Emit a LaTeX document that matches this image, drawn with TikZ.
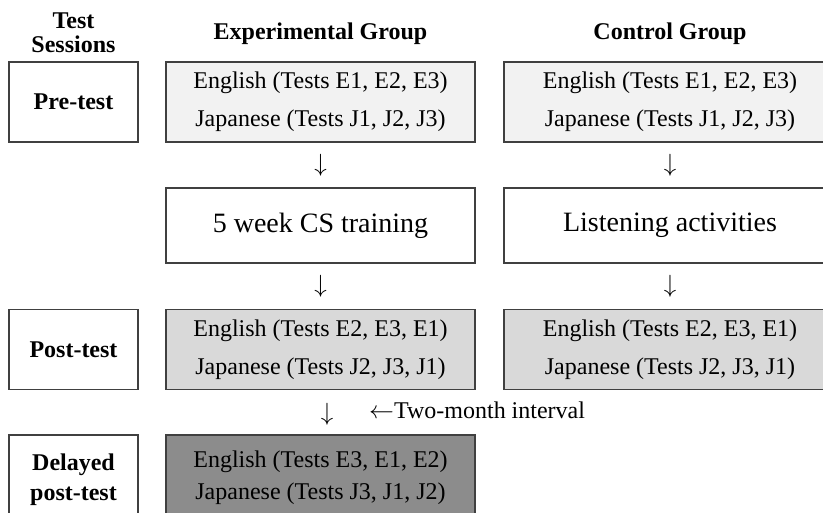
\documentclass[tikz,border=0pt]{standalone}
\usepackage{fontspec}
\setmainfont{Liberation Serif}
\usetikzlibrary{calc}
\definecolor{bordc}{HTML}{404040}
\definecolor{prefill}{HTML}{F2F2F2}
\definecolor{postfill}{HTML}{D9D9D9}
\definecolor{delfill}{HTML}{8C8C8C}
\begin{document}
\begin{tikzpicture}[x=1pt,y=-1pt,
  box/.style={draw=bordc, line width=1.4pt, inner sep=0pt, align=center,
    font=\fontsize{24}{38}\selectfont},
  labbox/.style={box, minimum width=129pt, minimum height=80pt,
    font=\fontsize{24}{30}\selectfont\bfseries},
  grpbox/.style={box, minimum width=309pt, minimum height=80pt},
  ctlbox/.style={box, minimum width=332pt, minimum height=80pt},
  head/.style={inner sep=0pt, align=center, font=\fontsize{24}{24}\selectfont\bfseries},
  downarr/.style={inner sep=0pt, font=\fontsize{29}{29}\selectfont},
  note/.style={inner sep=0pt, anchor=base west, font=\fontsize{24}{24}\selectfont}]
\useasboundingbox (0,0) rectangle (823,513);
\clip (0,0) rectangle (823,513);
% headers
\node[head] (hts) at (73.5,33) {Test\\Sessions};
\node[head, anchor=base] (hexp) at (320.5,40) {Experimental Group};
\node[head, anchor=base] (hctl) at (670,40) {Control Group};
% session labels
\node[labbox] (lpre) at (73.5,102) {Pre-test};
\node[labbox] (lpost) at (73.5,349.5) {Post-test};
\node[labbox, minimum height=88.8pt] (ldel) at (73.5,479.4) {Delayed\\post-test};
% experimental column
\node[grpbox, fill=prefill] (epre) at (320.5,102)
  {English (Tests E1, E2, E3)\\Japanese (Tests J1, J2, J3)};
\node[grpbox, minimum height=75pt, font=\fontsize{28}{32}\selectfont] (etr) at (320.5,225.5)
  {5 week CS training};
\node[grpbox, fill=postfill] (epost) at (320.5,349.5)
  {English (Tests E2, E3, E1)\\Japanese (Tests J2, J3, J1)};
\node[grpbox, fill=delfill, minimum height=85pt, font=\fontsize{24}{32}\selectfont] (edel) at (320.5,477.5)
  {English (Tests E3, E1, E2)\\Japanese (Tests J3, J1, J2)};
% control column
\node[ctlbox, fill=prefill] (cpre) at (670,102)
  {English (Tests E1, E2, E3)\\Japanese (Tests J1, J2, J3)};
\node[ctlbox, minimum height=75pt, font=\fontsize{28}{32}\selectfont] (ctr) at (670,225.5)
  {Listening activities};
\node[ctlbox, fill=postfill] (cpost) at (670,349.5)
  {English (Tests E2, E3, E1)\\Japanese (Tests J2, J3, J1)};
% arrows (printed as glyphs)
\node[downarr] (a1) at ($(epre.south)!0.5!(etr.north)$) {$\downarrow$};
\node[downarr] (a2) at ($(etr.south)!0.5!(epost.north)$) {$\downarrow$};
\node[downarr] (a3) at ([xshift=6.5pt,yshift=-2pt]$(epost.south)!0.5!(edel.north)$) {$\downarrow$};
\node[downarr] (b1) at ($(cpre.south)!0.5!(ctr.north)$) {$\downarrow$};
\node[downarr] (b2) at ($(ctr.south)!0.5!(cpost.north)$) {$\downarrow$};
\node[note] (interval) at (369,418) {$\leftarrow$Two-month interval};
\end{tikzpicture}
\end{document}
